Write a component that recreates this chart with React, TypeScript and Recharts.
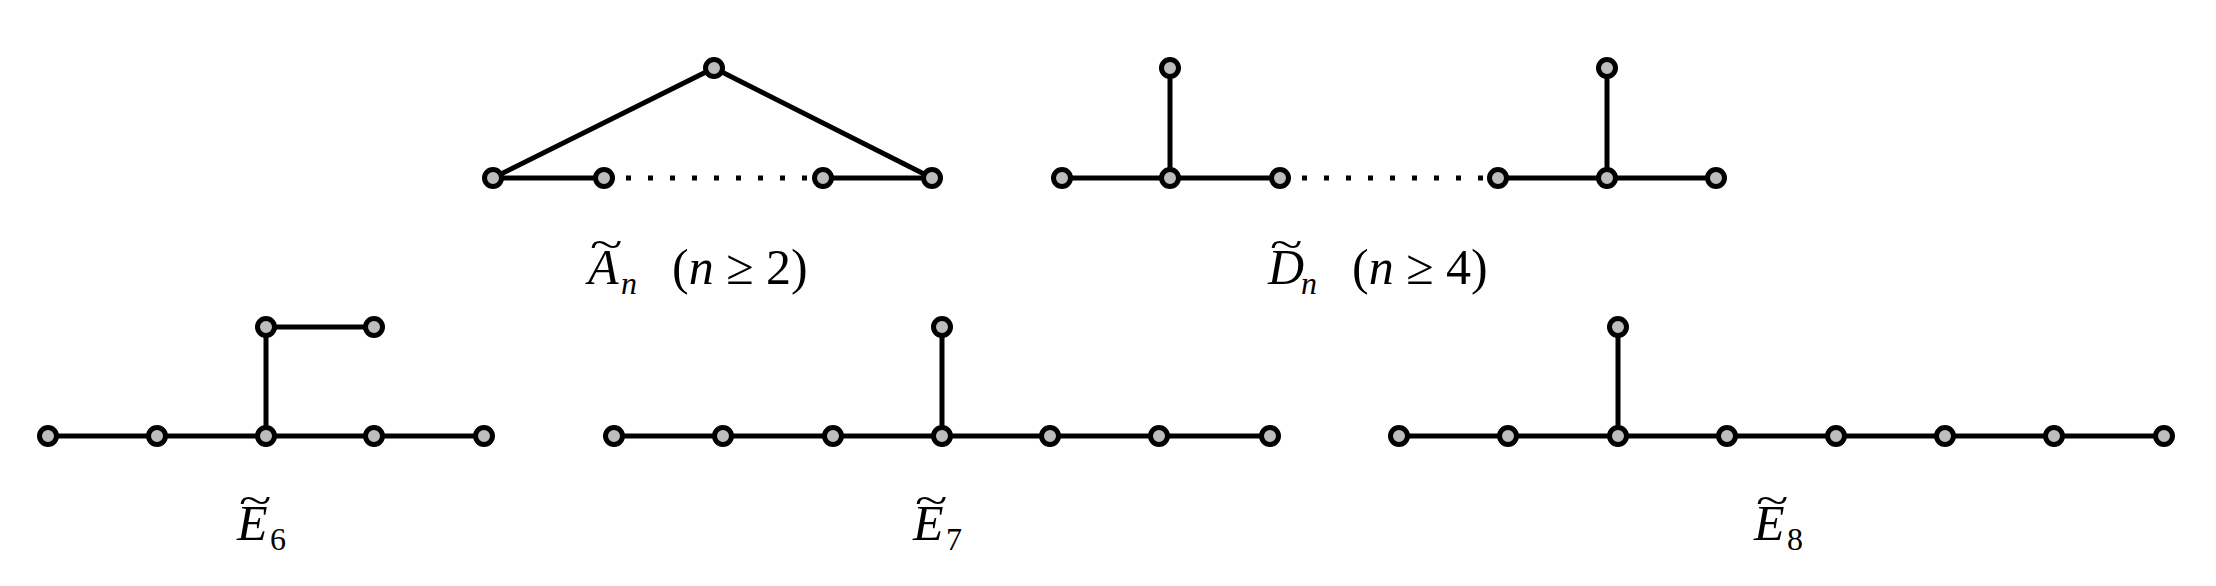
import React from 'react';
import { ScatterChart, Scatter, XAxis, YAxis } from 'recharts';

// node positions (pixel space of the 2216x586 figure)
const nodes = [
  // A~n
  { id: 'a1', x: 493, y: 178 }, { id: 'a2', x: 604, y: 178 }, { id: 'a3', x: 823, y: 178 },
  { id: 'a4', x: 932, y: 178 }, { id: 'a0', x: 714, y: 68 },
  // D~n
  { id: 'd1', x: 1062, y: 178 }, { id: 'd2', x: 1170, y: 178 }, { id: 'd3', x: 1280, y: 178 },
  { id: 'd4', x: 1498, y: 178 }, { id: 'd5', x: 1607, y: 178 }, { id: 'd6', x: 1716, y: 178 },
  { id: 'd7', x: 1170, y: 68 }, { id: 'd8', x: 1607, y: 68 },
  // E~6
  { id: 'e61', x: 48, y: 436 }, { id: 'e62', x: 157, y: 436 }, { id: 'e63', x: 266, y: 436 },
  { id: 'e64', x: 374, y: 436 }, { id: 'e65', x: 484, y: 436 }, { id: 'e66', x: 266, y: 327 },
  { id: 'e67', x: 374, y: 327 },
  // E~7
  { id: 'e71', x: 614, y: 436 }, { id: 'e72', x: 723, y: 436 }, { id: 'e73', x: 833, y: 436 },
  { id: 'e74', x: 942, y: 436 }, { id: 'e75', x: 1050, y: 436 }, { id: 'e76', x: 1159, y: 436 },
  { id: 'e77', x: 1270, y: 436 }, { id: 'e78', x: 942, y: 327 },
  // E~8
  { id: 'e81', x: 1399, y: 436 }, { id: 'e82', x: 1508, y: 436 }, { id: 'e83', x: 1618, y: 436 },
  { id: 'e84', x: 1727, y: 436 }, { id: 'e85', x: 1836, y: 436 }, { id: 'e86', x: 1945, y: 436 },
  { id: 'e87', x: 2054, y: 436 }, { id: 'e88', x: 2164, y: 436 }, { id: 'e89', x: 1618, y: 327 },
];

const edges = [
  ['a1', 'a2'], ['a3', 'a4'], ['a1', 'a0'], ['a0', 'a4'],
  ['d1', 'd2'], ['d2', 'd3'], ['d4', 'd5'], ['d5', 'd6'], ['d2', 'd7'], ['d5', 'd8'],
  ['e61', 'e62'], ['e62', 'e63'], ['e63', 'e64'], ['e64', 'e65'], ['e63', 'e66'], ['e66', 'e67'],
  ['e71', 'e72'], ['e72', 'e73'], ['e73', 'e74'], ['e74', 'e75'], ['e75', 'e76'], ['e76', 'e77'], ['e74', 'e78'],
  ['e81', 'e82'], ['e82', 'e83'], ['e83', 'e84'], ['e84', 'e85'], ['e85', 'e86'], ['e86', 'e87'], ['e87', 'e88'], ['e83', 'e89'],
];

const dottedEdges = [['a2', 'a3'], ['d3', 'd4']];

const labels = [
  { x: 714, y: 268, letter: 'A', sub: 'n', bound: '2' },
  { x: 1394, y: 268, letter: 'D', sub: 'n', bound: '4' },
  { x: 266, y: 524, letter: 'E', sub: '6', bound: '' },
  { x: 942, y: 524, letter: 'E', sub: '7', bound: '' },
  { x: 1783, y: 524, letter: 'E', sub: '8', bound: '' },
];

const byId = (id: string) => nodes.find((n) => n.id === id)!;

const Node = (p: any) => (
  <circle cx={p.cx} cy={p.cy} r={8.5} fill="#bdbdbd" stroke="#000" strokeWidth={5} />
);

const Label = (p: any) => {
  const d = p.payload;
  const font = '"Liberation Serif", "DejaVu Serif", serif';
  const w = d.bound ? 252 : 58;
  const x0 = p.cx - w / 2;
  return (
    <g fontFamily={font} fill="#000">
      <text x={0} y={0} fontSize={40}
        transform={`translate(${x0 + 2}, ${p.cy - 10}) scale(1.5, 1)`}>~</text>
      <text x={x0} y={p.cy + 16} fontSize={50} fontStyle="italic">{d.letter}</text>
      <text x={x0 + 33} y={p.cy + 26} fontSize={32} fontStyle={d.sub === 'n' ? 'italic' : 'normal'}>{d.sub}</text>
      {d.bound ? (
        <text x={x0 + 84} y={p.cy + 16} fontSize={50}>
          (<tspan fontStyle="italic">n</tspan> ≥ {d.bound})
        </text>
      ) : null}
    </g>
  );
};

const None = () => null;

export default function App() {
  return (
    <div style={{ position: 'absolute', left: 0, top: 0, background: '#fff' }}>
      <ScatterChart width={2216} height={586} margin={{ top: 0, right: 0, bottom: 0, left: 0 }}>
        <XAxis type="number" dataKey="x" domain={[0, 2216]} hide />
        <YAxis type="number" dataKey="y" domain={[0, 586]} reversed hide />
        {edges.map(([a, b], i) => (
          <Scatter key={'e' + i} data={[byId(a), byId(b)]} line={{ stroke: '#000', strokeWidth: 5 }}
            shape={None} isAnimationActive={false} />
        ))}
        {dottedEdges.map(([a, b], i) => (
          <Scatter key={'d' + i} data={[byId(a), byId(b)]}
            line={{ stroke: '#000', strokeWidth: 5, strokeDasharray: '5 17' }}
            shape={None} isAnimationActive={false} />
        ))}
        <Scatter data={nodes} shape={Node} isAnimationActive={false} />
        <Scatter data={labels} shape={Label} isAnimationActive={false} />
      </ScatterChart>
    </div>
  );
}
